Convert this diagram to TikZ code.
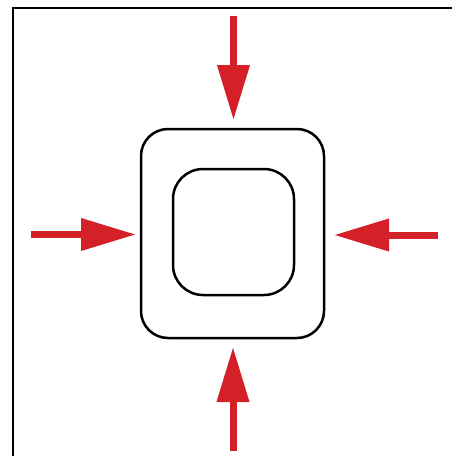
\documentclass[tikz,border=0pt]{standalone}
\usetikzlibrary{arrows.meta}
\definecolor{arrowred}{RGB}{212,32,39}
\begin{document}
\begin{tikzpicture}[x=1pt,y=-1pt,
  boxline/.style={draw=black,line width=2.5pt},
  frameline/.style={draw=black,line width=1.3pt},
  pressarrow/.style={draw=arrowred,line width=7pt,-{Triangle[length=55pt 0 0,width=31pt 0 0]}}]
\useasboundingbox (0,0) rectangle (452,456);
% frame
\draw[frameline] (13,456) -- (13,8) -- (452,8);
% boxes
\draw[boxline,rounded corners=27pt] (141,129) rectangle (324,338);
\draw[boxline,rounded corners=30pt] (173,169) rectangle (294,295);
% arrows
\coordinate (ts) at (233.5,16);  \coordinate (tt) at (233.5,120);
\coordinate (ls) at (31,234.5);  \coordinate (lt) at (136,234.5);
\coordinate (rs) at (438,235);   \coordinate (rt) at (334,235);
\coordinate (bs) at (233,451);   \coordinate (bt) at (233,347);
\draw[pressarrow] (ts) -- (tt);
\draw[pressarrow] (ls) -- (lt);
\draw[pressarrow] (rs) -- (rt);
\draw[pressarrow] (bs) -- (bt);
\end{tikzpicture}
\end{document}
